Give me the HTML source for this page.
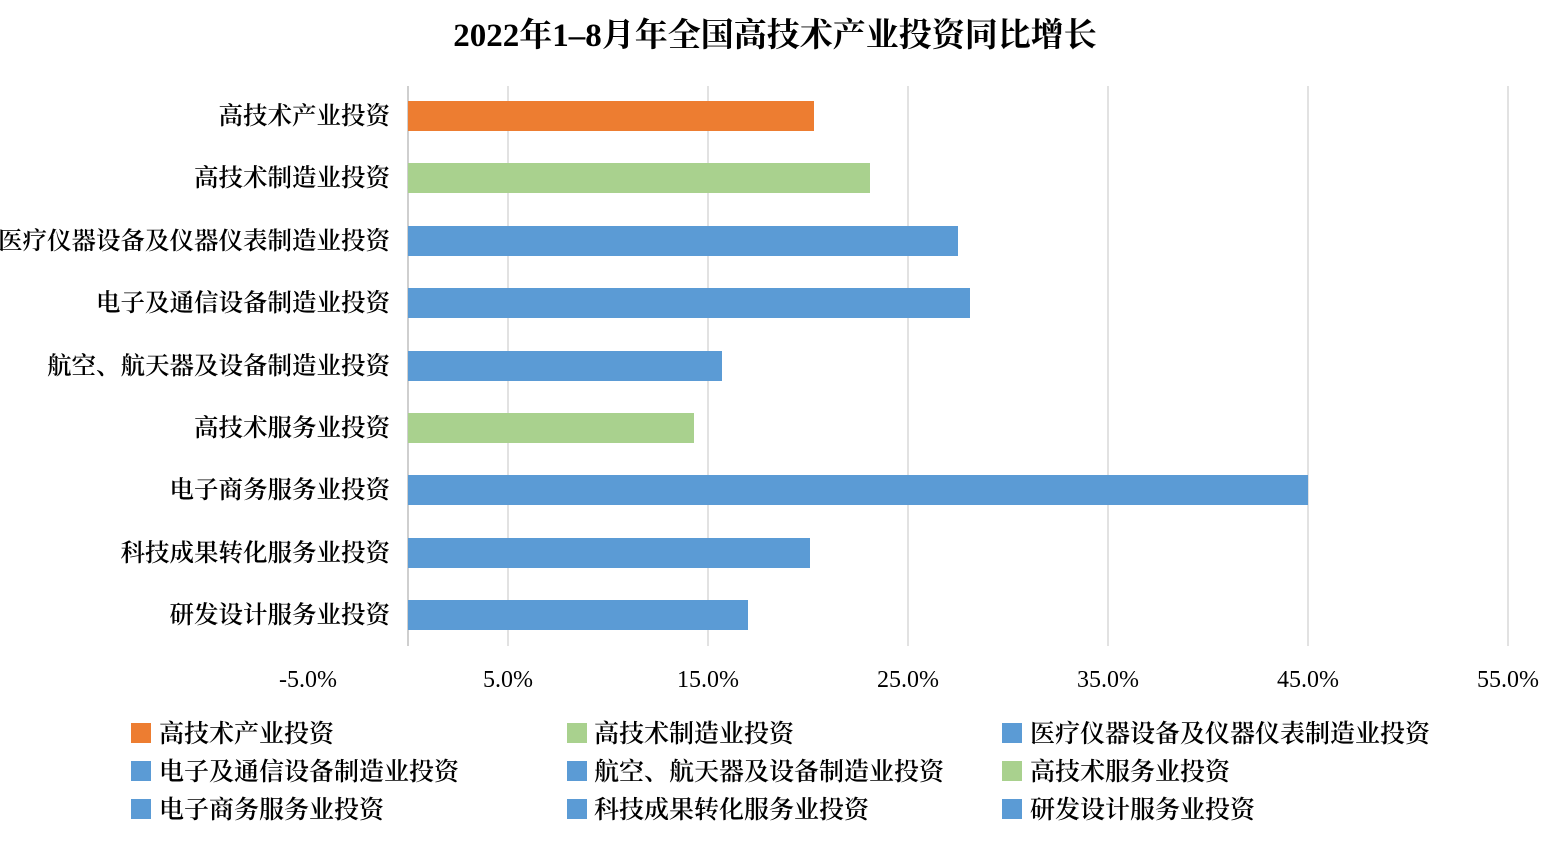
<!DOCTYPE html>
<html><head><meta charset="utf-8"><style>
body{margin:0;background:#fff;width:1552px;height:848px;overflow:hidden;position:relative;font-family:"Liberation Serif","Noto Serif CJK SC",serif;color:#000}
</style></head><body>
<svg width="1552" height="848" style="position:absolute;left:0;top:0" font-family="Liberation Serif, Noto Serif CJK SC, serif">
<text x="775" y="46" text-anchor="middle" font-size="33" font-weight="bold">2022年1–8月年全国高技术产业投资同比增长</text>
<g stroke="#d9d9d9" stroke-width="1.5">
<line x1="508" y1="86" x2="508" y2="646"/><line x1="708" y1="86" x2="708" y2="646"/><line x1="908" y1="86" x2="908" y2="646"/><line x1="1108" y1="86" x2="1108" y2="646"/><line x1="1308" y1="86" x2="1308" y2="646"/><line x1="1508" y1="86" x2="1508" y2="646"/>
</g>
<line x1="408" y1="86" x2="408" y2="646" stroke="#bfbfbf" stroke-width="1.5"/>
<g>
<rect x="408" y="101" width="406" height="30" fill="#ed7d31"/>
<rect x="408" y="163" width="462" height="30" fill="#a9d18e"/>
<rect x="408" y="226" width="550" height="30" fill="#5b9bd5"/>
<rect x="408" y="288" width="562" height="30" fill="#5b9bd5"/>
<rect x="408" y="351" width="314" height="30" fill="#5b9bd5"/>
<rect x="408" y="413" width="286" height="30" fill="#a9d18e"/>
<rect x="408" y="475" width="900" height="30" fill="#5b9bd5"/>
<rect x="408" y="538" width="402" height="30" fill="#5b9bd5"/>
<rect x="408" y="600" width="340" height="30" fill="#5b9bd5"/>
</g>
<g font-size="24.5" font-weight="600" text-anchor="end">
<text x="390" y="124">高技术产业投资</text>
<text x="390" y="186">高技术制造业投资</text>
<text x="390" y="249">医疗仪器设备及仪器仪表制造业投资</text>
<text x="390" y="311">电子及通信设备制造业投资</text>
<text x="390" y="374">航空、航天器及设备制造业投资</text>
<text x="390" y="436">高技术服务业投资</text>
<text x="390" y="498">电子商务服务业投资</text>
<text x="390" y="561">科技成果转化服务业投资</text>
<text x="390" y="623">研发设计服务业投资</text>
</g>
<g font-size="24" text-anchor="middle">
<text x="308" y="687">-5.0%</text><text x="508" y="687">5.0%</text><text x="708" y="687">15.0%</text><text x="908" y="687">25.0%</text><text x="1108" y="687">35.0%</text><text x="1308" y="687">45.0%</text><text x="1508" y="687">55.0%</text>
</g>
<g font-size="25" font-weight="600">
<rect x="131" y="723" width="20" height="20" fill="#ed7d31"/><text x="159" y="742">高技术产业投资</text>
<rect x="567" y="723" width="20" height="20" fill="#a9d18e"/><text x="594" y="742">高技术制造业投资</text>
<rect x="1002" y="723" width="20" height="20" fill="#5b9bd5"/><text x="1030" y="742">医疗仪器设备及仪器仪表制造业投资</text>
<rect x="131" y="761" width="20" height="20" fill="#5b9bd5"/><text x="159" y="780">电子及通信设备制造业投资</text>
<rect x="567" y="761" width="20" height="20" fill="#5b9bd5"/><text x="594" y="780">航空、航天器及设备制造业投资</text>
<rect x="1002" y="761" width="20" height="20" fill="#a9d18e"/><text x="1030" y="780">高技术服务业投资</text>
<rect x="131" y="799" width="20" height="20" fill="#5b9bd5"/><text x="159" y="818">电子商务服务业投资</text>
<rect x="567" y="799" width="20" height="20" fill="#5b9bd5"/><text x="594" y="818">科技成果转化服务业投资</text>
<rect x="1002" y="799" width="20" height="20" fill="#5b9bd5"/><text x="1030" y="818">研发设计服务业投资</text>
</g>
</svg>
</body></html>
